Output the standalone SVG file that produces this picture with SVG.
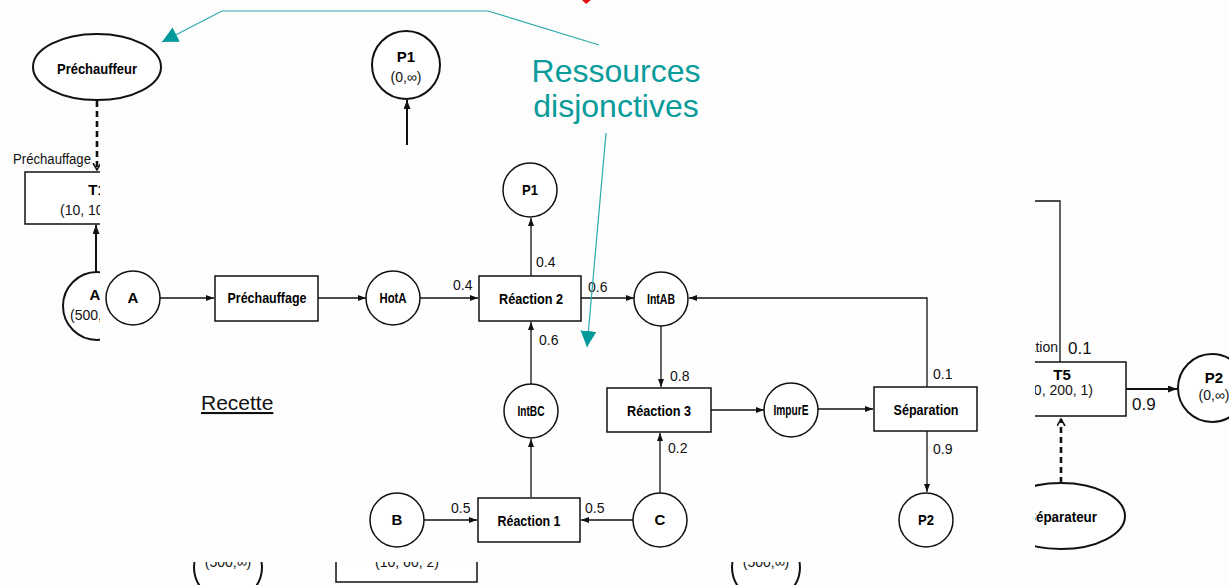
<svg xmlns="http://www.w3.org/2000/svg" width="1229" height="585" viewBox="0 0 1229 585">
  <style>
    .ln { stroke: #111; stroke-width: 1.3; fill: none; }
    .lnb { stroke: #111; stroke-width: 2; fill: none; }
    .dash { stroke: #111; stroke-width: 2.6; fill: none; stroke-dasharray: 6 4; }
    .shape { fill: #fff; stroke: #111; stroke-width: 1.5; }
    .shapeb { fill: #fff; stroke: #111; stroke-width: 2; }
    .lbl { font-family: "Liberation Sans", Arial, sans-serif; font-weight: bold; font-size: 15px; fill: #000; text-anchor: middle; }
    .num { font-family: "Liberation Sans", Arial, sans-serif; font-size: 14px; fill: #111; }
    .bgnum { font-family: "Liberation Sans", Arial, sans-serif; font-size: 17px; fill: #111; }
    .bgsub { font-family: "Liberation Sans", Arial, sans-serif; font-size: 14px; fill: #111; text-anchor: middle; }
    .teal { stroke: #2aa9a9; stroke-width: 1.2; fill: none; }
    .note { font-family: "Liberation Sans", Arial, sans-serif; font-size: 32px; fill: #0a9b9b; text-anchor: middle; }
  </style>
  <defs>
    <marker id="ah" markerUnits="userSpaceOnUse" markerWidth="9" markerHeight="7" refX="8" refY="3" orient="auto">
      <path d="M0,0 L8,3 L0,6 z" fill="#111"/>
    </marker>
    <marker id="ahb" markerUnits="userSpaceOnUse" markerWidth="10" markerHeight="8" refX="9" refY="3.5" orient="auto">
      <path d="M0,0 L9,3.5 L0,7 z" fill="#111"/>
    </marker>
    <marker id="ahopen" markerUnits="userSpaceOnUse" markerWidth="10" markerHeight="10" refX="7" refY="4" orient="auto">
      <path d="M0,0 L7,4 L0,8" fill="none" stroke="#111" stroke-width="1.6"/>
    </marker>
    <marker id="ahteal" markerUnits="userSpaceOnUse" markerWidth="18" markerHeight="18" refX="16" refY="8" orient="auto">
      <path d="M0,0 L16,8 L0,16 z" fill="#009a9a"/>
    </marker>
  </defs>

  <rect width="1229" height="585" fill="#fdfdfd"/>

  <!-- underlying resource network -->
  <g id="bg-connectors">
    <line class="dash" x1="97" y1="101" x2="97" y2="170" marker-end="url(#ahopen)"/>
    <line class="lnb" x1="96" y1="272" x2="96" y2="225" marker-end="url(#ahb)"/>
    <line class="lnb" x1="407" y1="150" x2="407" y2="100" marker-end="url(#ahb)"/>
    <polyline class="ln" points="1060,362 1060,201 980,201"/>
    <line class="lnb" x1="1126" y1="389" x2="1177" y2="389" marker-end="url(#ahb)"/>
    <line class="dash" x1="1061" y1="483" x2="1061" y2="419" marker-end="url(#ahopen)"/>
  </g>
  <g id="bg-prechauffeur">
    <ellipse class="shapeb" cx="97" cy="67" rx="64" ry="33"/>
    <text class="lbl" x="97" y="74" textLength="80" lengthAdjust="spacingAndGlyphs">Préchauffeur</text>
  </g>
  <g id="bg-t1">
    <text class="num" x="13" y="164" textLength="78" lengthAdjust="spacingAndGlyphs">Préchauffage</text>
    <rect class="shape" x="25" y="172" width="144" height="52"/>
    <text class="lbl" x="97" y="195">T1</text>
    <text class="bgsub" x="60" y="215" style="text-anchor:start">(10, 10</text>
  </g>
  <g id="bg-a">
    <circle class="shapeb" cx="97" cy="306" r="34"/>
    <text class="lbl" x="95" y="300">A</text>
    <text class="bgsub" x="70" y="320" style="text-anchor:start">(500,</text>
  </g>
  <g id="bg-p1">
    <circle class="shapeb" cx="406" cy="65" r="34"/>
    <text class="lbl" x="406" y="62">P1</text>
    <text class="bgsub" x="406" y="82">(0,∞)</text>
  </g>
  <g id="bg-b">
    <circle class="shapeb" cx="228" cy="567" r="34"/>
    <text class="bgsub" x="228" y="567">(500,∞)</text>
  </g>
  <g id="bg-t2">
    <rect class="shape" x="336" y="530" width="141" height="52"/>
    <text class="bgsub" x="407" y="567">(10, 60, 2)</text>
  </g>
  <g id="bg-c">
    <circle class="shapeb" cx="766" cy="567" r="34"/>
    <text class="bgsub" x="766" y="567">(500,∞)</text>
  </g>
  <g id="bg-t5">
    <text class="num" x="1058" y="352" style="text-anchor:end">Séparation</text>
    <text class="bgnum" x="1068" y="354">0.1</text>
    <rect class="shape" x="990" y="362" width="136" height="54"/>
    <text class="lbl" x="1062" y="380">T5</text>
    <text class="bgsub" x="1093" y="395" style="text-anchor:end">(10, 200, 1)</text>
    <text class="bgnum" x="1132" y="410">0.9</text>
  </g>
  <g id="bg-p2">
    <circle class="shapeb" cx="1212" cy="388" r="34"/>
    <text class="lbl" x="1214" y="383" font-size="14">P2</text>
    <text class="bgsub" x="1214" y="400" font-size="13">(0,∞)</text>
  </g>
  <g id="bg-separateur">
    <ellipse class="shapeb" cx="1061" cy="516" rx="64" ry="33"/>
    <text class="lbl" x="1062" y="522" textLength="70" lengthAdjust="spacingAndGlyphs">Séparateur</text>
  </g>

  <!-- recipe panel -->
  <rect id="recipe-panel" x="100" y="145" width="935" height="417" fill="#fefefe"/>
  <text x="201" y="410" font-family="Liberation Sans, Arial, sans-serif" font-size="21" fill="#111" text-decoration="underline">Recette</text>

  <g id="connectors">
    <line class="ln" x1="160" y1="298" x2="214" y2="298" marker-end="url(#ah)"/>
    <line class="ln" x1="318" y1="298" x2="366" y2="298" marker-end="url(#ah)"/>
    <line class="ln" x1="420" y1="298" x2="478" y2="298" marker-end="url(#ah)"/>
    <line class="ln" x1="531" y1="276" x2="531" y2="218" marker-end="url(#ah)"/>
    <line class="ln" x1="581" y1="298" x2="634" y2="298" marker-end="url(#ah)"/>
    <line class="ln" x1="531" y1="384" x2="531" y2="322" marker-end="url(#ah)"/>
    <line class="ln" x1="531" y1="497" x2="531" y2="439" marker-end="url(#ah)"/>
    <line class="ln" x1="424" y1="520" x2="477" y2="520" marker-end="url(#ah)"/>
    <line class="ln" x1="633" y1="520" x2="581" y2="520" marker-end="url(#ah)"/>
    <line class="ln" x1="660" y1="493" x2="660" y2="433" marker-end="url(#ah)"/>
    <line class="ln" x1="661" y1="326" x2="661" y2="387" marker-end="url(#ah)"/>
    <line class="ln" x1="711" y1="410" x2="764" y2="410" marker-end="url(#ah)"/>
    <line class="ln" x1="818" y1="409" x2="873" y2="409" marker-end="url(#ah)"/>
    <polyline class="ln" points="927,387 927,298 689,298" marker-end="url(#ah)"/>
    <line class="ln" x1="927" y1="431" x2="927" y2="492" marker-end="url(#ah)"/>
    <text class="num" x="453" y="290">0.4</text>
    <text class="num" x="536" y="267">0.4</text>
    <text class="num" x="588" y="292">0.6</text>
    <text class="num" x="539" y="345">0.6</text>
    <text class="num" x="451" y="513">0.5</text>
    <text class="num" x="585" y="513">0.5</text>
    <text class="num" x="668" y="453">0.2</text>
    <text class="num" x="670" y="381">0.8</text>
    <text class="num" x="933" y="379">0.1</text>
    <text class="num" x="933" y="454">0.9</text>
  </g>

  <g id="node-a">
    <circle class="shape" cx="133" cy="298" r="27"/>
    <text class="lbl" x="133" y="303" font-size="13">A</text>
  </g>
  <g id="node-prechauffage">
    <rect class="shape" x="215" y="276" width="103" height="45"/>
    <text class="lbl" x="267" y="303" textLength="79" lengthAdjust="spacingAndGlyphs">Préchauffage</text>
  </g>
  <g id="node-hota">
    <circle class="shape" cx="393" cy="298" r="27"/>
    <text class="lbl" x="393" y="303" textLength="27" lengthAdjust="spacingAndGlyphs">HotA</text>
  </g>
  <g id="node-reaction2">
    <rect class="shape" x="479" y="276" width="102" height="45"/>
    <text class="lbl" x="531" y="304" textLength="64" lengthAdjust="spacingAndGlyphs">Réaction 2</text>
  </g>
  <g id="node-p1">
    <circle class="shape" cx="530" cy="190" r="27"/>
    <text class="lbl" x="530" y="195" textLength="16" lengthAdjust="spacingAndGlyphs">P1</text>
  </g>
  <g id="node-intab">
    <circle class="shape" cx="661" cy="299" r="27"/>
    <text class="lbl" x="661" y="304" textLength="28" lengthAdjust="spacingAndGlyphs">IntAB</text>
  </g>
  <g id="node-intbc">
    <circle class="shape" cx="531" cy="411" r="27"/>
    <text class="lbl" x="531" y="416" textLength="27" lengthAdjust="spacingAndGlyphs">IntBC</text>
  </g>
  <g id="node-reaction3">
    <rect class="shape" x="607" y="388" width="104" height="44"/>
    <text class="lbl" x="659" y="416" textLength="64" lengthAdjust="spacingAndGlyphs">Réaction 3</text>
  </g>
  <g id="node-impure">
    <circle class="shape" cx="791" cy="410" r="27"/>
    <text class="lbl" x="791" y="415" textLength="35" lengthAdjust="spacingAndGlyphs">ImpurE</text>
  </g>
  <g id="node-separation">
    <rect class="shape" x="874" y="387" width="103" height="44"/>
    <text class="lbl" x="926" y="415" textLength="65" lengthAdjust="spacingAndGlyphs">Séparation</text>
  </g>
  <g id="node-b">
    <circle class="shape" cx="397" cy="520" r="27"/>
    <text class="lbl" x="397" y="525" font-size="13">B</text>
  </g>
  <g id="node-reaction1">
    <rect class="shape" x="478" y="498" width="102" height="44"/>
    <text class="lbl" x="529" y="526" textLength="63" lengthAdjust="spacingAndGlyphs">Réaction 1</text>
  </g>
  <g id="node-c">
    <circle class="shape" cx="660" cy="520" r="27"/>
    <text class="lbl" x="660" y="525" font-size="13">C</text>
  </g>
  <g id="node-p2">
    <circle class="shape" cx="926" cy="520" r="27"/>
    <text class="lbl" x="926" y="525" textLength="16" lengthAdjust="spacingAndGlyphs">P2</text>
  </g>

  <!-- callout -->
  <g id="callout">
    <polyline class="teal" points="599,45 488,11 222,11 162,42" marker-end="url(#ahteal)"/>
    <line class="teal" x1="606" y1="133" x2="587" y2="347" marker-end="url(#ahteal)"/>
    <text class="note" x="616" y="82">Ressources</text>
    <text class="note" x="616" y="117">disjonctives</text>
    <polygon points="582,0 591,0 586,4" fill="#e01010"/>
  </g>
</svg>
